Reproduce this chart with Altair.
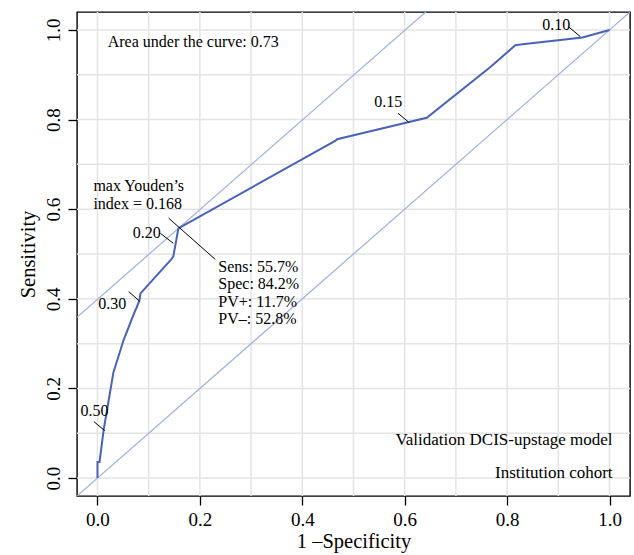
import altair as alt
import pandas as pd

# ROC curve: 1 - specificity vs sensitivity
fpr = [0.0, 0.0, 0.004, 0.012, 0.031, 0.051, 0.074, 0.076, 0.082, 0.084, 0.144, 0.148, 0.158,
       0.465, 0.468, 0.643, 0.768, 0.816, 0.830, 0.947, 1.0]
tpr = [0.0, 0.036, 0.036, 0.107, 0.235, 0.308, 0.375, 0.379, 0.397, 0.412, 0.488, 0.494, 0.557,
       0.753, 0.756, 0.804, 0.918, 0.966, 0.968, 0.983, 1.0]

# threshold labels and their leader segments
thr_labels = ["0.50", "0.30", "0.20", "0.15", "0.10"]
thr_text_x = [-0.006, 0.029, 0.096, 0.568, 0.896]
thr_text_y = [0.139, 0.377, 0.536, 0.828, 1.000]
lead_x1 = [-0.007, 0.061, 0.123, 0.587, 0.920]
lead_y1 = [0.126, 0.416, 0.546, 0.814, 1.007]
lead_x2 = [0.014, 0.083, 0.148, 0.608, 0.943]
lead_y2 = [0.106, 0.394, 0.524, 0.794, 0.985]

# optimal cut-off
youden_x = 0.158
youden_y = 0.557
youden_seg = [(0.139, 0.580), (0.230, 0.488)]

grid_vals = [round(0.1 * i, 1) for i in range(11)]
tick_vals = [0.0, 0.2, 0.4, 0.6, 0.8, 1.0]
lo, hi = -0.04, 1.04

FONT = "Liberation Serif"
CURVE = "#4a63b8"
REF = "#9eb0e0"

xs = alt.Scale(domain=[lo, hi], nice=False, zero=False)
ys = alt.Scale(domain=[lo, hi], nice=False, zero=False)
x_axis = alt.Axis(values=tick_vals, format=".1f", grid=False, domain=False,
                  title="1 \u2013Specificity", labelPadding=5)
y_axis = alt.Axis(values=tick_vals, format=".1f", grid=False, domain=False,
                  title="Sensitivity", labelAngle=-90, labelAlign="center",
                  labelBaseline="alphabetic", labelPadding=9)


def X(field):
    return alt.X(field, scale=xs, axis=x_axis)


def Y(field):
    return alt.Y(field, scale=ys, axis=y_axis)


grid_df = pd.DataFrame({"v": grid_vals})
vgrid = alt.Chart(grid_df).mark_rule(color="#e4e4e4", strokeWidth=1.5).encode(x=X("v:Q"))
hgrid = alt.Chart(grid_df).mark_rule(color="#e4e4e4", strokeWidth=1.5).encode(y=Y("v:Q"))

# chance diagonal and the tangent line through the optimal point
ref_df = pd.DataFrame({
    "x": [lo, hi, lo, hi],
    "y": [lo, hi, lo + youden_y - youden_x, hi + youden_y - youden_x],
    "g": ["diag", "diag", "tan", "tan"],
})
ref = alt.Chart(ref_df).mark_line(color=REF, strokeWidth=1.2, clip=True).encode(
    x=X("x:Q"), y=Y("y:Q"), detail="g:N",
)

roc_df = pd.DataFrame({"fpr": fpr, "tpr": tpr, "o": range(len(fpr))})
roc = alt.Chart(roc_df).mark_line(color=CURVE, strokeWidth=2).encode(
    x=X("fpr:Q"), y=Y("tpr:Q"), order="o:Q",
)

seg_df = pd.DataFrame({
    "x1": lead_x1 + [youden_seg[0][0]],
    "y1": lead_y1 + [youden_seg[0][1]],
    "x2": lead_x2 + [youden_seg[1][0]],
    "y2": lead_y2 + [youden_seg[1][1]],
})
segs = alt.Chart(seg_df).mark_rule(color="black", strokeWidth=1).encode(
    x=X("x1:Q"), y=Y("y1:Q"), x2="x2:Q", y2="y2:Q",
)

thr_df = pd.DataFrame({"t": thr_labels, "x": thr_text_x, "y": thr_text_y})
thr = alt.Chart(thr_df).mark_text(font=FONT, fontSize=16, align="center",
                                  baseline="alphabetic", color="black").encode(
    x=X("x:Q"), y=Y("y:Q"), text="t:N",
)

left_df = pd.DataFrame({
    "t": ["Area under the curve: 0.73", "max Youden\u2019s", "index = 0.168",
          "Sens: 55.7%", "Spec: 84.2%", "PV+: 11.7%", "PV\u2013: 52.8%"],
    "x": [0.02, -0.008, -0.008, 0.236, 0.236, 0.236, 0.236],
    "y": [0.963, 0.641, 0.600, 0.4605, 0.421, 0.382, 0.344],
})
left_txt = alt.Chart(left_df).mark_text(font=FONT, fontSize=16, align="left",
                                        baseline="alphabetic", color="black").encode(
    x=X("x:Q"), y=Y("y:Q"), text="t:N",
)

right_df = pd.DataFrame({
    "t": ["Validation DCIS-upstage model", "Institution cohort"],
    "x": [1.006, 1.006],
    "y": [0.074, 0.0],
})
right_txt = alt.Chart(right_df).mark_text(font=FONT, fontSize=17, align="right",
                                          baseline="alphabetic", color="black").encode(
    x=X("x:Q"), y=Y("y:Q"), text="t:N",
)

chart = alt.layer(vgrid, hgrid, ref, roc, segs, thr, left_txt, right_txt).properties(
    width=553, height=484,
    autosize=alt.AutoSizeParams(type="none"),
    padding={"left": 77, "top": 12, "right": 4, "bottom": 59},
).configure_view(
    stroke="black", strokeWidth=1.4,
).configure_axis(
    labelFont=FONT, labelFontSize=19, labelColor="black",
    tickColor="black", tickSize=9, tickWidth=1.3,
    titleFont=FONT, titleFontSize=20.5, titleFontWeight="normal", titleColor="black",
).configure_axisX(titlePadding=2).configure_axisY(titlePadding=6)

chart.save("out.html", embed_options={"renderer": "svg", "actions": False})
